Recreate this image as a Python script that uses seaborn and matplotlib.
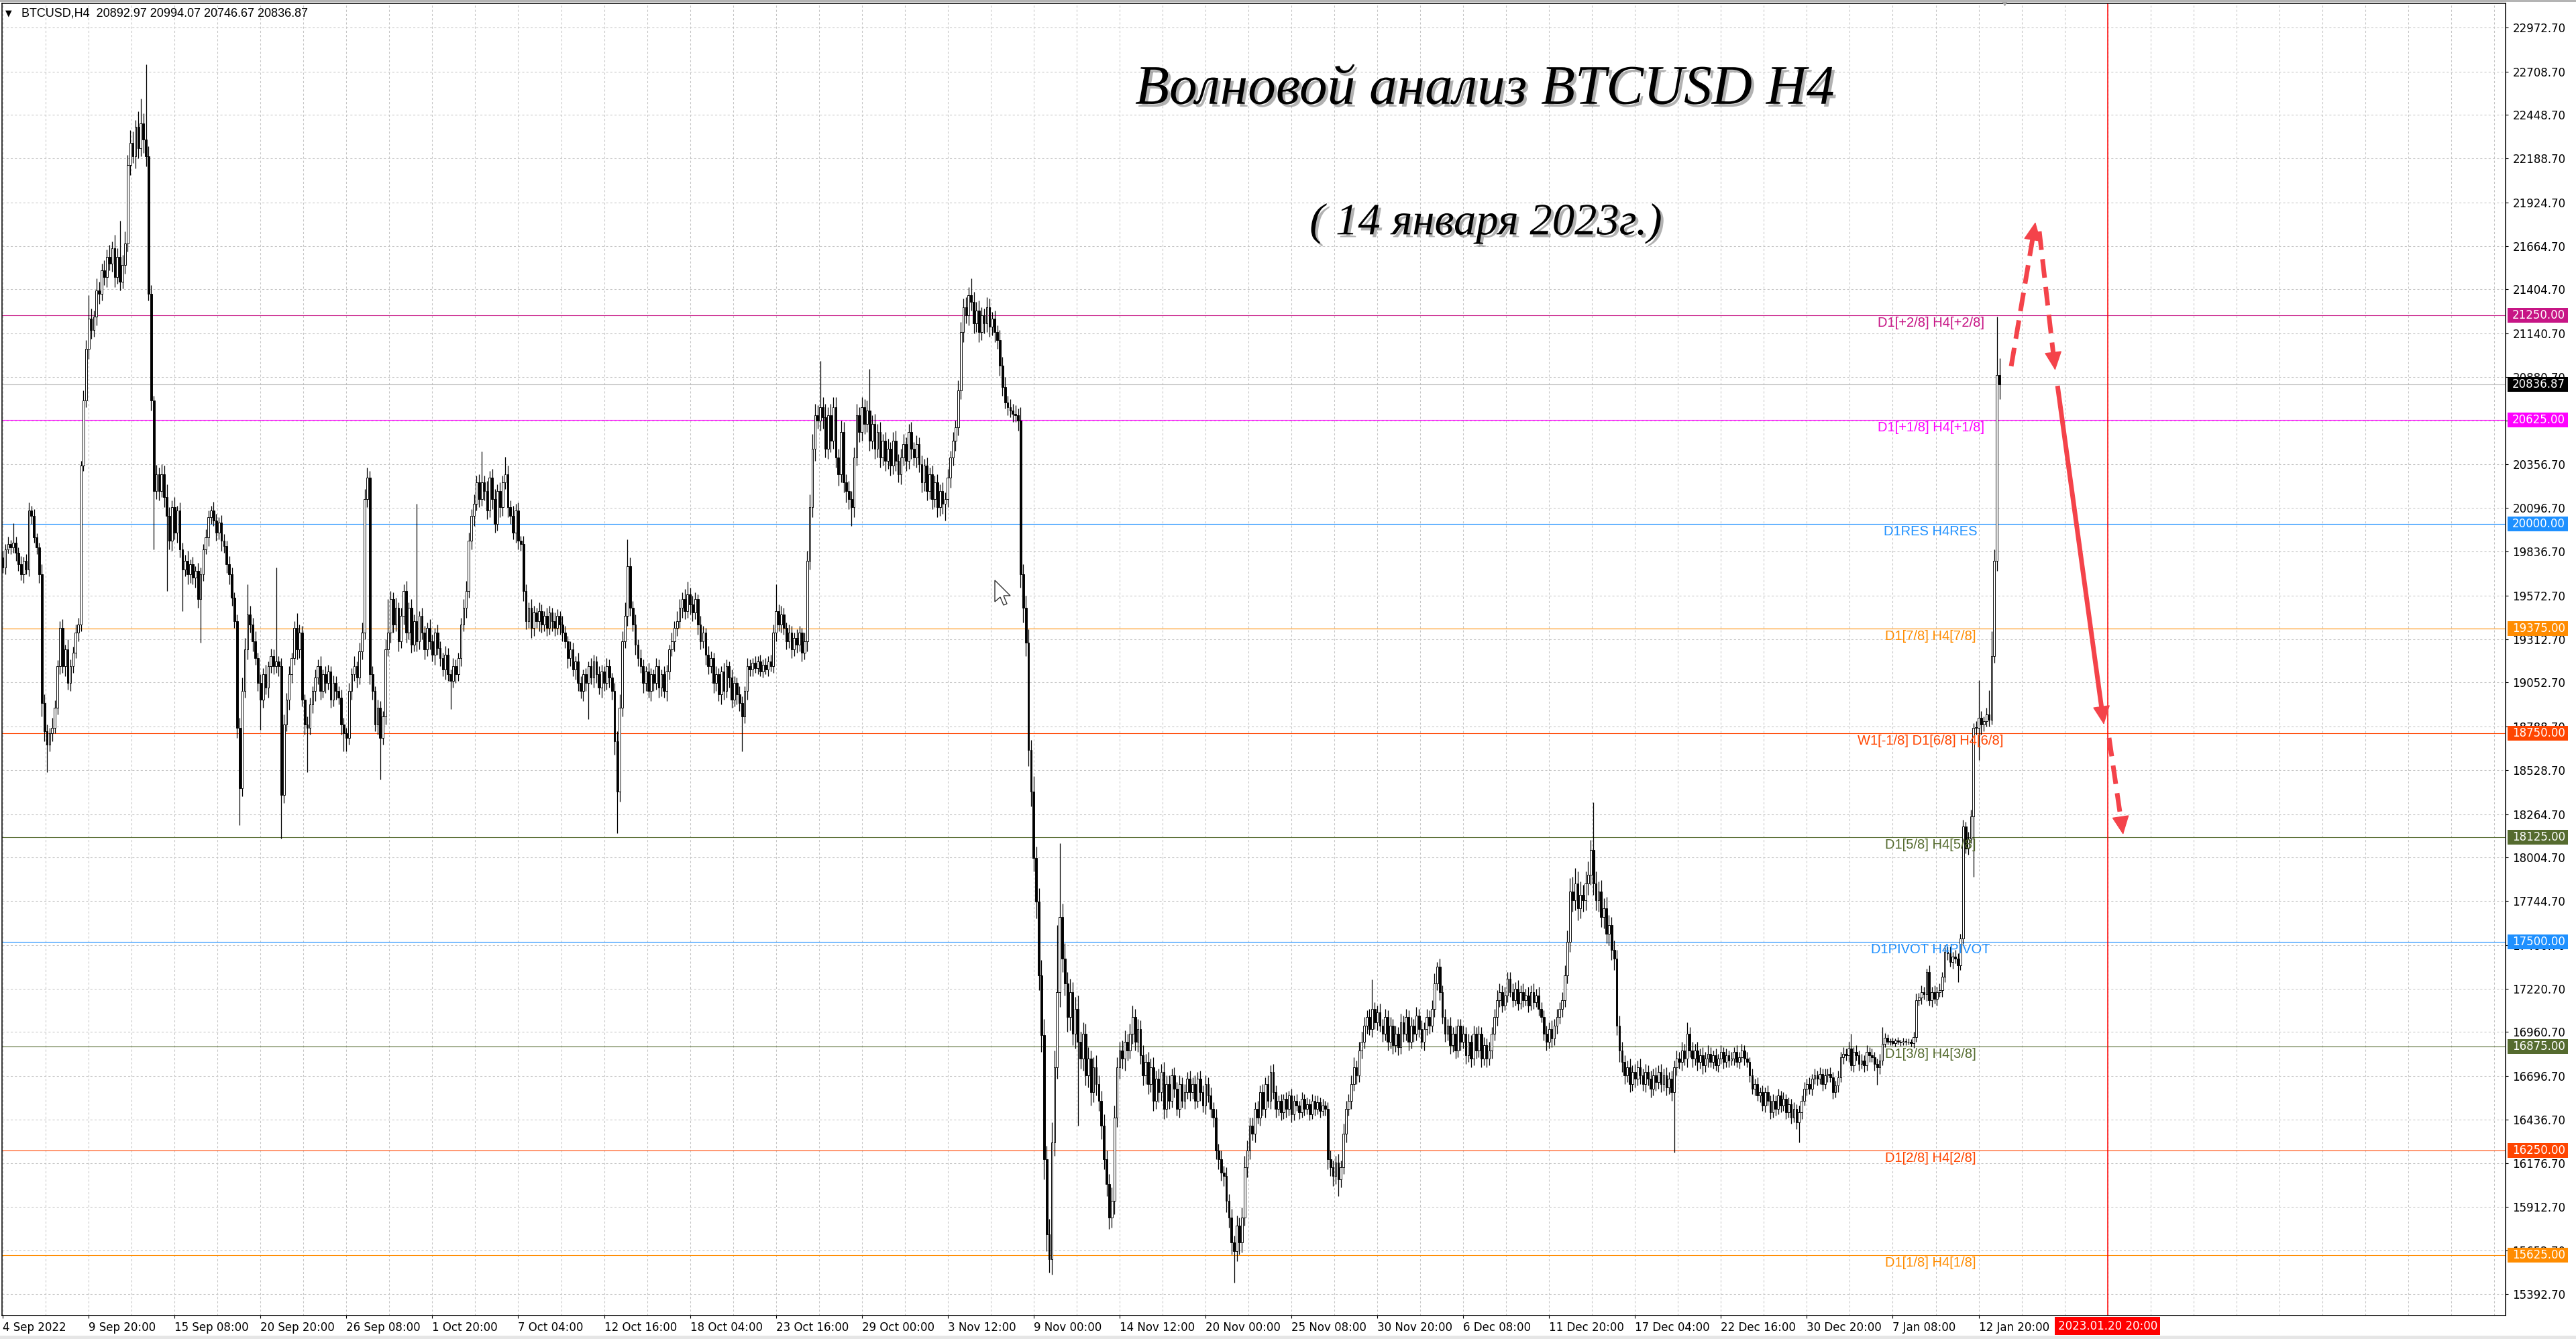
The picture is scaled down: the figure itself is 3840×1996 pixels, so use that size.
import numpy as np
import pandas as pd
import seaborn as sns
import matplotlib.pyplot as plt
import matplotlib.patheffects as pe
from matplotlib.patches import Rectangle, Polygon
from matplotlib.transforms import blended_transform_factory

# BTCUSD H4 candles, 4 Sep 2022 .. 14 Jan 2023
# open of each bar = close of the previous one
first_open = 19800
closes = [
    19740, 19850, 19880, 19860, 19890, 19830, 19760, 19700, 19780, 19730, 20080, 20050, 19920, 19860, 19700, 18930,
    18760, 18680, 18750, 18780, 18900, 19150, 19380, 19150, 19250, 19050, 19150, 19230, 19350, 19400, 20350, 20740,
    21050, 21230, 21160, 21240, 21400, 21380, 21520, 21480, 21600, 21560, 21650, 21480, 21600, 21450, 21550, 21680,
    22150, 22280, 22200, 22380, 22250, 22400, 22300, 22200, 21380, 20740, 20200, 20300, 20200, 20300, 20160, 20050,
    19900, 20100, 19950, 20080, 19850, 19730, 19780, 19700, 19760, 19680, 19720, 19550, 19700, 19850, 19920, 20040,
    20080, 20020, 19950, 20010, 19900, 19870, 19760, 19700, 19560, 19420, 18780, 18420, 19000, 19250, 19460, 19400,
    19300, 19200, 19050, 18950, 19100, 19020, 19150, 19210, 19150, 19180, 19150, 18380, 18800, 18950, 19100, 19200,
    19380, 19250, 19350, 18950, 18800, 18780, 18920, 19000, 19080, 19150, 19000, 19100, 19050, 19120, 18950, 19050,
    19000, 18960, 18800, 18750, 18720, 19000, 19100, 19150, 19080, 19240, 19350, 20150, 20280, 19100, 19000, 18800,
    18900, 18720, 18850, 19250, 19350, 19550, 19400, 19500, 19300, 19450, 19600, 19350, 19500, 19280, 19420, 19300,
    19450, 19350, 19250, 19380, 19300, 19220, 19350, 19260, 19200, 19130, 19220, 19100, 19060, 19150, 19100, 19200,
    19400, 19500, 19600, 19900, 20050, 20120, 20250, 20150, 20250, 20200, 20080, 20280, 20150, 20000, 20200, 20100,
    20250, 20300, 20100, 20050, 19950, 20080, 19900, 19880, 19600, 19420, 19500, 19380, 19470, 19420, 19480, 19400,
    19450, 19380, 19470, 19420, 19380, 19450, 19400, 19350, 19300, 19200, 19250, 19130, 19180, 19050, 19000, 19100,
    19050, 19150, 19080, 19180, 19100, 19020, 19120, 19050, 19150, 19080, 19000, 18700, 18400, 18900, 19300, 19450,
    19750, 19500, 19400, 19280, 19200, 19150, 19050, 19120, 19000, 19100, 19050, 19150, 19020, 19100, 19000, 19120,
    19250, 19300, 19380, 19420, 19500, 19550, 19480, 19580, 19520, 19470, 19550, 19400, 19300, 19350, 19220, 19150,
    19200, 19050, 19100, 18980, 19120, 19000, 19150, 19080, 18950, 19050, 18980, 18930, 18850, 19000, 19150, 19130,
    19170, 19140, 19180, 19120, 19160, 19130, 19180, 19150, 19350, 19480, 19400, 19460, 19380, 19300, 19350, 19250,
    19320, 19280, 19350, 19230, 19300, 19780, 20100, 20450, 20650, 20620, 20700, 20640, 20450, 20650, 20500, 20700,
    20400, 20300, 20550, 20250, 20200, 20150, 20100, 20400, 20650, 20550, 20700, 20600, 20680, 20500, 20600, 20450,
    20550, 20400, 20500, 20380, 20450, 20350, 20500, 20380, 20300, 20400, 20480, 20380, 20550, 20450, 20400, 20480,
    20360, 20250, 20350, 20200, 20300, 20150, 20250, 20100, 20200, 20120, 20150, 20280, 20400, 20500, 20580, 20800,
    21150, 21300, 21250, 21370, 21330, 21200, 21280, 21150, 21250, 21200, 21300, 21180, 21230, 21150, 21100, 20950,
    20820, 20730, 20700, 20680, 20660, 20650, 20620, 19700, 19500, 19290, 18650, 18400, 18000, 17740, 17300, 16940,
    16200, 15750, 15600, 16300, 16750, 17200, 17650, 17400, 17250, 17050, 17200, 16950, 17100, 16900, 16800, 16950,
    16700, 16800, 16600, 16750, 16650, 16550, 16400, 16200, 16050, 15850, 15950, 16450, 16750, 16850, 16800, 16900,
    16850, 16950, 17050, 16900, 16980, 16820, 16700, 16780, 16650, 16750, 16550, 16680, 16600, 16720, 16500, 16650,
    16550, 16700, 16620, 16500, 16650, 16550, 16600, 16680, 16600, 16650, 16550, 16680, 16600, 16520, 16650, 16580,
    16500, 16450, 16250, 16200, 16120, 16100, 15950, 15850, 15700, 15650, 15800, 15700, 15850, 16150, 16250, 16400,
    16350, 16500, 16450, 16600, 16500, 16650, 16550, 16720, 16600, 16500, 16550, 16480, 16560, 16500, 16580, 16470,
    16550, 16520, 16480, 16560, 16500, 16530, 16470, 16550, 16500, 16540, 16490, 16520, 16500, 16200, 16150, 16100,
    16180, 16080, 16150, 16350, 16500, 16550, 16650, 16750, 16700, 16850, 16900, 17000, 17050, 16980, 17100, 17020,
    17080, 17000, 16950, 17050, 16900, 17000, 16880, 16950, 16870, 17020, 16950, 17050, 16900, 17000, 16950, 17060,
    16980, 16900, 16980, 17050, 17000, 17100, 17250, 17350, 17200, 17050, 16950, 17000, 16880, 16950, 16850, 17000,
    16900, 16950, 16820, 16900, 16800, 16950, 16850, 16950, 16800, 16880, 16800, 16850, 16950, 17050, 17150, 17200,
    17120, 17180, 17280, 17200, 17150, 17220, 17130, 17200, 17150, 17180, 17120, 17200, 17140, 17180, 17100, 17050,
    16950, 16900, 16980, 16920, 17000, 17050, 17100, 17150, 17300, 17500, 17800, 17750, 17850, 17700, 17780, 17750,
    17850, 17900, 18050, 17850, 17750, 17800, 17650, 17700, 17550, 17600, 17450, 17400, 17000, 16850, 16780, 16700,
    16750, 16650, 16720, 16680, 16750, 16700, 16650, 16720, 16680, 16620, 16700, 16660, 16720, 16650, 16700, 16630,
    16680, 16600, 16750, 16800, 16780, 16850, 16800, 16950, 16850, 16800, 16850, 16780, 16820, 16760, 16800, 16830,
    16780, 16820, 16760, 16800, 16840, 16780, 16820, 16790, 16800, 16840, 16780, 16810, 16850, 16800, 16780, 16700,
    16620, 16650, 16580, 16600, 16520, 16600, 16550, 16480, 16550, 16500, 16580, 16520, 16560, 16480, 16530, 16450,
    16500, 16420, 16480, 16550, 16620, 16650, 16620, 16680, 16700, 16680, 16710, 16650, 16700, 16710, 16690, 16600,
    16640, 16690, 16810, 16830, 16820, 16860, 16760, 16840, 16820, 16770, 16790, 16760, 16840, 16820, 16810, 16770,
    16750, 16790, 16890, 16925, 16900, 16905, 16895, 16908, 16900, 16898, 16905, 16900, 16903, 16895, 16930, 17150,
    17165, 17200, 17185, 17320, 17150, 17200, 17160, 17200, 17210, 17290, 17440, 17430, 17380, 17410, 17400, 17360,
    17520, 18190, 18060, 18120, 18250, 18780, 18780, 18840, 18800, 18820, 18860, 18830, 19210, 19780, 20892.97, 20836.87,
]
# wick above max(open, close) and below min(open, close)
upper_wick = [
    40, 30, 45, 25, 117, 35, 30, 50, 25, 40, 50, 30, 40, 25, 30, 60,
    50, 40, 30, 60, 45, 35, 40, 50, 30, 60, 40, 35, 50, 40, 30, 60,
    50, 142, 60, 40, 70, 50, 40, 60, 45, 70, 40, 80, 50, 216, 60, 70,
    60, 80, 70, 40, 90, 147, 60, 453, 60, 50, 30, 56, 40, 60, 50, 80,
    50, 40, 60, 30, 50, 40, 35, 60, 30, 45, 30, 50, 40, 30, 50, 40,
    30, 55, 40, 30, 45, 40, 30, 50, 40, 30, 40, 60, 80, 70, 180, 50,
    40, 60, 30, 50, 40, 60, 30, 45, 40, 560, 30, 50, 60, 40, 50, 30,
    40, 87, 50, 40, 30, 50, 40, 30, 50, 40, 60, 30, 50, 40, 30, 45,
    40, 30, 50, 40, 30, 50, 40, 60, 30, 50, 60, 60, 60, 40, 50, 30,
    50, 40, 30, 60, 200, 50, 40, 60, 30, 50, 40, 60, 30, 50, 40, 700,
    30, 50, 40, 30, 50, 40, 30, 50, 40, 30, 50, 40, 30, 50, 40, 30,
    40, 50, 60, 50, 40, 60, 40, 50, 185, 40, 60, 40, 50, 60, 40, 50,
    40, 104, 50, 40, 60, 40, 50, 30, 50, 40, 30, 50, 40, 30, 50, 40,
    30, 50, 40, 30, 50, 40, 30, 50, 40, 30, 50, 40, 30, 50, 40, 30,
    40, 30, 50, 40, 30, 50, 40, 30, 50, 40, 30, 50, 60, 80, 60, 80,
    160, 50, 40, 60, 30, 50, 40, 30, 50, 40, 30, 50, 40, 30, 50, 40,
    30, 50, 40, 60, 50, 40, 60, 78, 40, 50, 40, 30, 50, 40, 30, 50,
    40, 30, 50, 40, 30, 50, 40, 30, 50, 40, 30, 50, 40, 30, 50, 40,
    30, 40, 30, 40, 30, 40, 30, 40, 50, 160, 40, 50, 40, 30, 50, 40,
    30, 50, 40, 30, 50, 60, 80, 90, 70, 60, 275, 60, 80, 50, 70, 60,
    60, 50, 70, 60, 50, 60, 50, 60, 70, 50, 60, 50, 60, 248, 50, 60,
    50, 60, 40, 50, 60, 40, 50, 60, 40, 50, 60, 40, 50, 60, 40, 50,
    40, 50, 40, 50, 40, 50, 40, 50, 40, 50, 40, 50, 40, 50, 40, 60,
    60, 50, 60, 50, 100, 60, 50, 60, 50, 40, 60, 50, 40, 50, 40, 60,
    50, 60, 40, 50, 40, 50, 40, 80, 60, 70, 80, 60, 90, 70, 80, 90,
    100, 80, 90, 120, 100, 400, 440, 80, 90, 70, 80, 60, 70, 80, 60, 70,
    60, 70, 50, 60, 70, 50, 60, 70, 50, 60, 80, 70, 60, 50, 60, 70,
    50, 60, 70, 50, 60, 50, 60, 50, 60, 50, 60, 50, 60, 50, 60, 50,
    50, 40, 50, 40, 50, 40, 50, 40, 50, 40, 50, 40, 50, 40, 50, 40,
    50, 40, 50, 40, 50, 40, 50, 40, 50, 40, 60, 50, 60, 70, 60, 50,
    50, 40, 50, 40, 50, 40, 50, 40, 50, 40, 30, 40, 30, 40, 30, 40,
    30, 40, 30, 40, 30, 40, 30, 40, 30, 40, 30, 40, 30, 40, 50, 40,
    40, 50, 40, 60, 50, 40, 50, 60, 40, 50, 60, 50, 40, 50, 176, 40,
    40, 50, 40, 50, 40, 50, 40, 50, 40, 50, 40, 50, 40, 50, 40, 50,
    40, 50, 40, 50, 40, 50, 60, 30, 50, 40, 50, 40, 50, 40, 50, 40,
    40, 50, 40, 50, 40, 50, 40, 50, 40, 50, 40, 50, 40, 50, 60, 50,
    40, 50, 40, 40, 50, 40, 50, 40, 50, 40, 50, 40, 50, 40, 50, 40,
    40, 50, 40, 50, 40, 50, 40, 50, 60, 70, 80, 90, 90, 70, 80, 60,
    70, 80, 60, 285, 70, 60, 70, 60, 70, 60, 50, 60, 50, 60, 50, 40,
    40, 50, 40, 50, 40, 50, 40, 50, 40, 50, 40, 50, 40, 50, 40, 50,
    40, 50, 40, 50, 40, 50, 40, 70, 40, 50, 40, 50, 40, 50, 40, 50,
    40, 30, 40, 30, 40, 30, 40, 30, 40, 30, 40, 30, 40, 30, 40, 30,
    40, 30, 40, 30, 40, 30, 40, 30, 40, 30, 40, 30, 40, 30, 40, 30,
    40, 30, 40, 30, 40, 30, 40, 30, 40, 30, 40, 30, 40, 30, 40, 30,
    30, 40, 30, 40, 30, 40, 90, 30, 40, 30, 40, 30, 40, 30, 40, 30,
    30, 40, 100, 30, 20, 15, 20, 15, 20, 15, 20, 15, 20, 15, 30, 40,
    30, 40, 30, 20, 40, 30, 40, 30, 40, 30, 40, 30, 40, 30, 40, 30,
    30, 40, 30, 40, 40, 30, 40, 225, 40, 30, 40, 147, 148, 69, 350, 101.1,
]
lower_wick = [
    30, 40, 25, 40, 30, 50, 40, 35, 50, 30, 40, 50, 30, 40, 50, 80,
    60, 165, 40, 50, 30, 40, 50, 40, 60, 40, 50, 40, 30, 50, 40, 30,
    40, 60, 50, 40, 50, 60, 40, 50, 60, 40, 50, 60, 40, 50, 40, 50,
    50, 60, 40, 70, 60, 50, 80, 60, 40, 60, 350, 50, 60, 40, 60, 450,
    50, 60, 40, 60, 50, 250, 40, 60, 50, 40, 60, 50, 260, 40, 30, 50,
    40, 30, 50, 40, 60, 40, 50, 60, 50, 40, 60, 220, 50, 40, 60, 50,
    60, 40, 50, 180, 50, 40, 60, 40, 50, 40, 60, 260, 50, 40, 60, 50,
    40, 60, 50, 40, 60, 265, 40, 50, 60, 40, 50, 40, 60, 40, 50, 40,
    50, 40, 60, 110, 80, 40, 50, 40, 60, 40, 50, 40, 50, 60, 50, 40,
    60, 250, 40, 50, 40, 60, 50, 40, 60, 40, 50, 60, 40, 50, 40, 60,
    50, 40, 60, 40, 50, 40, 60, 40, 50, 40, 60, 40, 165, 40, 50, 40,
    50, 40, 60, 40, 50, 60, 40, 50, 40, 60, 50, 40, 60, 50, 40, 60,
    50, 40, 60, 50, 40, 60, 50, 40, 60, 50, 40, 60, 50, 40, 60, 50,
    40, 50, 40, 60, 50, 40, 60, 50, 40, 60, 50, 40, 60, 50, 41, 60,
    50, 218, 40, 60, 50, 40, 60, 50, 40, 60, 50, 80, 250, 60, 50, 40,
    60, 50, 40, 60, 50, 40, 60, 50, 40, 60, 50, 40, 60, 50, 40, 60,
    50, 40, 60, 50, 40, 60, 50, 40, 60, 50, 40, 60, 50, 40, 60, 50,
    40, 60, 50, 40, 60, 50, 40, 60, 50, 40, 60, 50, 210, 40, 50, 40,
    40, 30, 40, 30, 40, 30, 40, 30, 40, 50, 40, 50, 40, 50, 40, 50,
    40, 50, 40, 50, 40, 60, 50, 60, 70, 50, 60, 70, 50, 60, 70, 50,
    60, 70, 50, 60, 70, 60, 110, 60, 50, 60, 50, 60, 50, 60, 50, 60,
    50, 60, 50, 60, 50, 60, 50, 60, 50, 60, 50, 60, 50, 60, 50, 60,
    50, 60, 50, 60, 50, 60, 50, 60, 50, 60, 100, 50, 60, 50, 60, 50,
    50, 60, 50, 60, 50, 60, 50, 60, 50, 60, 50, 60, 50, 60, 50, 60,
    50, 40, 50, 40, 50, 40, 60, 80, 90, 80, 100, 90, 80, 100, 90, 100,
    120, 100, 80, 90, 80, 70, 90, 80, 70, 90, 80, 70, 90, 500, 60, 70,
    60, 70, 80, 60, 70, 60, 80, 60, 70, 70, 60, 80, 60, 70, 60, 70,
    60, 50, 60, 50, 60, 50, 60, 50, 60, 50, 60, 50, 60, 50, 60, 50,
    50, 40, 50, 40, 50, 40, 50, 40, 50, 40, 50, 40, 50, 40, 50, 40,
    50, 60, 50, 60, 50, 60, 70, 60, 70, 190, 60, 70, 60, 50, 60, 50,
    40, 50, 40, 50, 40, 50, 40, 50, 40, 50, 40, 50, 40, 50, 40, 50,
    40, 30, 40, 30, 40, 30, 40, 30, 40, 30, 40, 30, 40, 60, 50, 60,
    50, 100, 50, 40, 50, 40, 50, 40, 50, 40, 50, 40, 50, 40, 50, 40,
    50, 40, 50, 40, 50, 40, 50, 40, 50, 40, 50, 40, 50, 40, 50, 40,
    50, 40, 50, 40, 50, 40, 50, 40, 50, 40, 50, 40, 50, 40, 50, 40,
    50, 40, 50, 40, 50, 40, 50, 40, 50, 40, 50, 40, 50, 40, 50, 40,
    40, 30, 40, 30, 40, 30, 40, 30, 40, 30, 40, 30, 40, 30, 40, 30,
    40, 50, 40, 50, 40, 50, 40, 50, 40, 50, 60, 70, 60, 70, 60, 70,
    60, 70, 60, 70, 60, 70, 60, 70, 60, 70, 60, 70, 60, 70, 60, 50,
    40, 50, 40, 50, 40, 50, 40, 50, 40, 50, 40, 50, 40, 50, 40, 50,
    40, 50, 360, 50, 40, 50, 40, 50, 40, 50, 40, 50, 40, 50, 40, 50,
    30, 40, 30, 40, 30, 40, 30, 40, 30, 40, 30, 40, 30, 40, 30, 40,
    30, 40, 30, 40, 30, 40, 30, 40, 30, 40, 30, 40, 30, 40, 30, 40,
    30, 40, 120, 40, 30, 40, 30, 40, 30, 40, 30, 40, 30, 40, 30, 40,
    30, 40, 30, 40, 30, 40, 30, 40, 30, 40, 30, 40, 30, 40, 30, 40,
    107, 40, 30, 20, 15, 20, 15, 20, 15, 20, 15, 20, 15, 20, 30, 30,
    30, 40, 30, 40, 30, 40, 30, 40, 30, 40, 30, 40, 30, 40, 30, 100,
    30, 40, 30, 40, 30, 360, 40, 190, 60, 40, 30, 40, 30, 40, 58, 90.2,
]

# time axis: one label every 33 bars
time_labels = ['4 Sep 2022', '9 Sep 20:00', '15 Sep 08:00', '20 Sep 20:00', '26 Sep 08:00',
               '1 Oct 20:00', '7 Oct 04:00', '12 Oct 16:00', '18 Oct 04:00', '23 Oct 16:00',
               '29 Oct 00:00', '3 Nov 12:00', '9 Nov 00:00', '14 Nov 12:00', '20 Nov 00:00',
               '25 Nov 08:00', '30 Nov 20:00', '6 Dec 08:00', '11 Dec 20:00', '17 Dec 04:00',
               '22 Dec 16:00', '30 Dec 20:00', '7 Jan 08:00', '12 Jan 20:00']
bars_per_label = 33

price_ticks = [22972.70, 22708.70, 22448.70, 22188.70, 21924.70, 21664.70, 21404.70, 21140.70,
               20880.70, 20620.70, 20356.70, 20096.70, 19836.70, 19572.70, 19312.70, 19052.70,
               18788.70, 18528.70, 18264.70, 18004.70, 17744.70, 17480.70, 17220.70, 16960.70,
               16696.70, 16436.70, 16176.70, 15912.70, 15652.70, 15392.70]

# Murrey math levels
levels = [21250, 20625, 20000, 19375, 18750, 18125, 17500, 16875, 16250, 15625]
level_names = ['D1[+2/8] H4[+2/8]', 'D1[+1/8] H4[+1/8]', 'D1RES H4RES', 'D1[7/8] H4[7/8]',
               'W1[-1/8] D1[6/8] H4[6/8]', 'D1[5/8] H4[5/8]', 'D1PIVOT H4PIVOT',
               'D1[3/8] H4[3/8]', 'D1[2/8] H4[2/8]', 'D1[1/8] H4[1/8]']
level_colors = ['#C71585', '#FF00FF', '#1E90FF', '#FF8C00', '#FF4500', '#556B2F',
                '#1E90FF', '#556B2F', '#FF4500', '#FF8C00']
level_label_bar = 740.6

last_price = 20836.87
header = 'BTCUSD,H4  20892.97 20994.07 20746.67 20836.87'
future_bar = 808.5          # 2023.01.20 20:00
future_label = '2023.01.20 20:00'

# wave forecast (bar, price): start -> tip
forecast_start_bar = [771.5, 782.3, 789.3, 809.1]
forecast_start_price = [20945, 21752, 20828, 18721]
forecast_tip_bar = [780.8, 788.4, 807.1, 814.5]
forecast_tip_price = [21808, 20921, 18801, 18142]
forecast_dashed = [True, True, False, True]

title = 'Волновой анализ BTCUSD H4'
subtitle = '( 14 января 2023г.)'

###########
# dataframe
###########
df = pd.DataFrame({'close': closes, 'up': upper_wick, 'dn': lower_wick})
df['open'] = df['close'].shift(1).fillna(first_open)
df['high'] = df[['open', 'close']].max(axis=1) + df['up']
df['low'] = df[['open', 'close']].min(axis=1) - df['dn']
df['bar'] = np.arange(len(df))
df['bull'] = df['close'] >= df['open']

##########
# plotting
##########
sns.set_theme(style='white', rc={'axes.edgecolor': 'black', 'axes.linewidth': 1.1,
                                 'xtick.color': 'black', 'ytick.color': 'black',
                                 'text.color': 'black'})
plt.rcParams['font.family'] = ['DejaVu Sans']

W, H = 3840, 1996
fig = plt.figure(figsize=(W / 100, H / 100), dpi=100)
ax = fig.add_axes([3 / W, 35 / H, 3732 / W, 1956 / H])
ax.set_facecolor('white')
ax.set_xlim(-0.283, 961.4)
ax.set_ylim(15263.6, 23117.0)

# grid
grid_kw = dict(color='#C4C4C4', lw=0.75, ls=(0, (3, 3)), zorder=0)
for gx in np.arange(0, 961, bars_per_label / 2):
    ax.axvline(gx, **grid_kw)
for gy in price_ticks:
    ax.axhline(gy, **grid_kw)

# level lines
for lvl, c in zip(levels, level_colors):
    ax.axhline(lvl, color=c, lw=0.8, zorder=1)
ax.axhline(last_price, color='#B8B8B8', lw=0.8, zorder=1)
ax.axvline(future_bar, color='red', lw=1.1, zorder=1)

# candles
ax.vlines(df['bar'], df['low'], df['high'], color='black', lw=0.9, zorder=3)
body_bottom = df[['open', 'close']].min(axis=1)
body_height = (df['close'] - df['open']).abs().clip(lower=3)
ax.bar(df['bar'], body_height, bottom=body_bottom, width=0.7,
       color=np.where(df['bull'], 'white', 'black'), edgecolor='black',
       linewidth=0.65, zorder=4)

# level labels
for lvl, name, c in zip(levels, level_names, level_colors):
    ax.annotate(name, xy=(level_label_bar, lvl), xytext=(0, -1.5), textcoords='offset points',
                ha='center', va='top', color=c, fontsize=14.5,
                family=['Liberation Sans', 'DejaVu Sans'], zorder=5)

# forecast arrows
fc = '#F4434A'
head_px = 25
for x0, y0, x1, y1, dashed in zip(forecast_start_bar, forecast_start_price,
                                  forecast_tip_bar, forecast_tip_price, forecast_dashed):
    p0 = ax.transData.transform((x0, y0))
    p1 = ax.transData.transform((x1, y1))
    u = (p1 - p0) / np.hypot(*(p1 - p0))
    base = ax.transData.inverted().transform(p1 - u * head_px)
    base_in = ax.transData.inverted().transform(p1 - u * (head_px - 3))
    ax.plot([x0, base_in[0]], [y0, base_in[1]], color=fc, lw=5,
            ls=(0, (4, 2)) if dashed else '-', solid_capstyle='butt',
            dash_capstyle='butt', zorder=6)
    ax.annotate('', xy=(x1, y1), xytext=(base[0], base[1]),
                arrowprops=dict(arrowstyle='-|>,head_length=0.9,head_width=0.42',
                                color=fc, lw=1, mutation_scale=20, shrinkA=0, shrinkB=0),
                zorder=6)

# axes
for s in ax.spines.values():
    s.set_color('black')
    s.set_linewidth(1.1)
ax.yaxis.tick_right()
ax.set_yticks(price_ticks)
ax.set_yticklabels([f'{v:.2f}' for v in price_ticks])
ax.set_xticks(np.arange(len(time_labels)) * bars_per_label)
ax.set_xticklabels(time_labels)
for lbl in ax.get_xticklabels():
    lbl.set_horizontalalignment('left')
ax.tick_params(axis='y', which='both', direction='out', length=3, width=0.8,
               pad=4.5, labelsize=12, right=True, left=False)
ax.tick_params(axis='x', which='both', direction='out', length=3, width=0.8,
               pad=3.5, labelsize=12, bottom=True)
ax.set_xlabel('')
ax.set_ylabel('')

# price boxes on the right scale (they sit over the tick labels, as in the terminal)
trans = blended_transform_factory(ax.transAxes, ax.transData)
box_h = 22 * (23117.0 - 15263.6) / 1956
box_rows = list(zip(levels, level_colors)) + [(last_price, 'black')]
for lvl, c in box_rows:
    ax.add_patch(Rectangle((1.0008, lvl - box_h / 2), 0.02425, box_h, transform=trans,
                           facecolor=c, edgecolor='none', clip_on=False, zorder=10))
    ax.text(1.0027, lvl, f'{lvl:.2f}', transform=trans, color='white', ha='left',
            va='center', fontsize=12, zorder=11, clip_on=False)

# future time label
ax.annotate(future_label, xy=(future_bar, 0), xycoords=('data', 'axes fraction'),
            xytext=(0, -11.2), textcoords='offset points', ha='center', va='center',
            color='white', fontsize=12, annotation_clip=False, zorder=11,
            bbox=dict(boxstyle='square,pad=0.28', fc='red', ec='none'))

# chart shift marker
ax.plot([768.9], [23117.0 + 8], marker='v', ms=7, color='#A8A8A8', clip_on=False, zorder=12)

# mouse pointer left on the screenshot
cursor = np.array([[0, 0], [0, 32], [8, 25], [13, 37], [18, 35], [13, 23], [23, 23]])
tip = np.array([1483, 865])
pts = [((tip[0] + cx) / W, 1 - (tip[1] + cy) / H) for cx, cy in cursor]
fig.patches.append(Polygon(pts, closed=True, transform=fig.transFigure,
                           facecolor='white', edgecolor='#333333', lw=1.0, zorder=20))

# header
fig.text(8 / W, 1 - 20 / H, '\u25bc', fontsize=9, va='center', ha='left',
         family=['DejaVu Sans'])
fig.text(32 / W, 1 - 20 / H, header, fontsize=13, va='center', ha='left',
         family=['Liberation Sans', 'DejaVu Sans'])

# title
shadow = [pe.withSimplePatchShadow(offset=(3, -3), shadow_rgbFace='#555555', alpha=0.45)]
fig.text(2214 / W, 1 - 135 / H, title, fontsize=60, style='italic', ha='center', va='center',
         family=['Liberation Serif', 'DejaVu Serif'], path_effects=shadow)
fig.text(2215 / W, 1 - 333 / H, subtitle, fontsize=48, style='italic', ha='center', va='center',
         family=['Liberation Serif', 'DejaVu Serif'], path_effects=shadow)

# window edges
fig.patches.append(Rectangle((0, 1 - 3 / H), 1, 3 / H, transform=fig.transFigure,
                             facecolor='#B4B4B4', edgecolor='none'))
fig.patches.append(Rectangle((0, 0), 1, 5 / H, transform=fig.transFigure,
                             facecolor='#E6E6E6', edgecolor='none'))

fig.savefig('out.png', dpi=100, facecolor='white')
